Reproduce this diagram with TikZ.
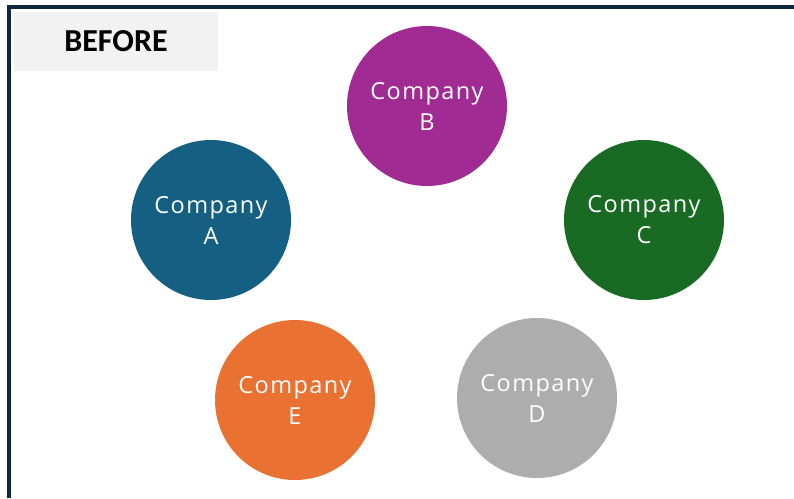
\documentclass[tikz,border=0pt]{standalone}
\usepackage{fontspec}
\setmainfont{Open Sans}[LetterSpace=6]
\newfontfamily\labelfont{Carlito}
\definecolor{frameC}{HTML}{0E2841}
\definecolor{tagC}{HTML}{F2F2F2}
\definecolor{cA}{HTML}{156082}
\definecolor{cB}{HTML}{A02B93}
\definecolor{cC}{HTML}{196B24}
\definecolor{cD}{HTML}{ADADAD}
\definecolor{cE}{HTML}{E97132}
\tikzset{
  company/.style={circle, minimum size=160pt, inner sep=0pt, fill=#1, text=white,
    align=center, font=\fontsize{23.5}{31}\selectfont},
}
\begin{document}
\begin{tikzpicture}[x=1pt,y=-1pt]
\useasboundingbox (0,0) rectangle (794,498);
\fill[white] (0,0) rectangle (794,498);
\draw[frameC, line width=3.6pt] (9,498) -- (9,7) -- (794,7);
\node[fill=tagC, minimum width=204pt, minimum height=59pt, inner sep=0pt,
  font=\labelfont\bfseries\fontsize{32}{34}\selectfont] (tag) at (116,41.5) {BEFORE};
\node[company=cA] (A) at (211,220) {Company\\A};
\node[company=cB] (B) at (427,106) {Company\\B};
\node[company=cC] (C) at (644,220) {Company\\C};
\node[company=cD] (D) at (537,398) {Company\\D};
\node[company=cE] (E) at (295,400) {Company\\E};
\end{tikzpicture}
\end{document}
